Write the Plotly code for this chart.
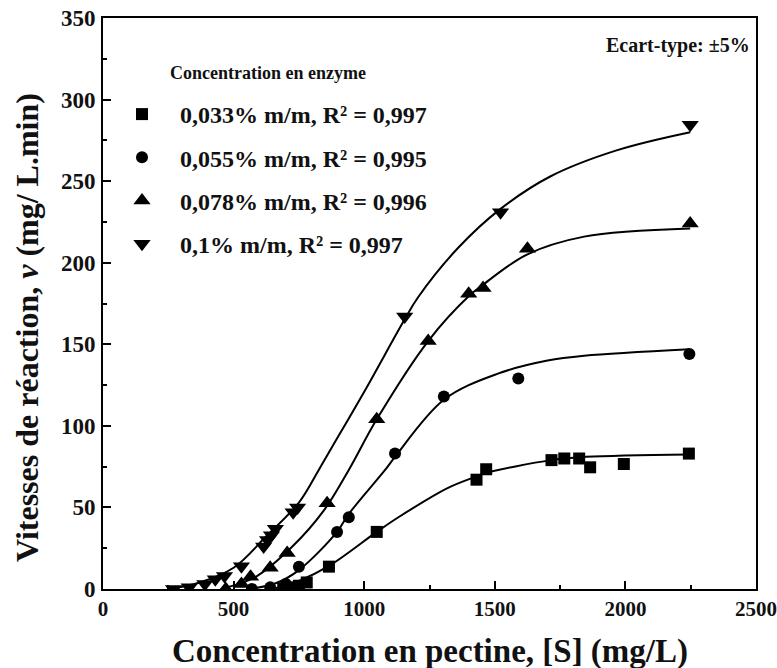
import plotly.graph_objects as go

# ---- measured points ----
sq_x = [690, 720, 750, 780, 865, 1048, 1430, 1467, 1717, 1766, 1823, 1865, 1994, 2243]
sq_y = [0, 1, 2, 4, 13.7, 35, 67, 73.4, 79, 80, 80, 74.6, 76.6, 83]

ci_x = [570, 640, 700, 750, 896, 941, 1118, 1305, 1590, 2245]
ci_y = [0, 1, 3, 13.7, 35, 44, 83, 118, 129, 144]

up_x = [470, 530, 565, 640, 705, 858, 1048, 1245, 1400, 1455, 1625, 2248]
up_y = [0, 3, 7.5, 13, 22, 52.5, 104, 152, 181, 184.5, 208.5, 224]

dn_x = [270, 330, 390, 430, 465, 530, 615, 630, 645, 660, 728, 745, 1155, 1522, 2248]
dn_y = [0, 1, 3, 6, 8, 14, 26, 30, 33, 37, 47, 50, 167, 231, 284.5]

# ---- fitted curves ----
f033_x = [650, 750, 864, 1048, 1131, 1321, 1429, 1461, 1717, 1850, 2243]
f033_y = [0, 5, 14, 35, 44, 62, 69, 71, 79, 81, 82.5]

f055_x = [560, 661, 750, 896, 941, 1080, 1118, 1305, 1512, 1702, 1842, 2245]
f055_y = [0, 3.5, 11.6, 35, 46, 73, 81, 116, 132, 140, 143, 147]

f078_x = [450, 585, 725, 845, 941, 1048, 1245, 1404, 1451, 1623, 1842, 2248]
f078_y = [0, 7.5, 26, 48, 73, 104, 152, 180, 186, 205, 216, 221]

f01_x = [250, 370, 500, 623, 750, 826, 877, 1004, 1154, 1207, 1359, 1522, 1714, 1969, 2248]
f01_y = [0, 4, 13, 32, 53, 73, 87, 122, 165, 179, 209, 233, 253, 269, 280]

names = ["0,033% m/m, R² = 0,997", "0,055% m/m, R² = 0,995",
         "0,078% m/m, R² = 0,996", "0,1% m/m, R² = 0,997"]

x_ticks = [0, 500, 1000, 1500, 2000, 2500]
y_ticks = [0, 50, 100, 150, 200, 250, 300, 350]

SERIF = "Liberation Serif, Times New Roman, serif"
INK = "#111111"

L, R, T, B = 103, 21, 18, 79
PW, PH = 777 - L - R, 668 - T - B


def px_x(p):
    return (p - L) / PW


def px_y(p):
    return 1 - (p - T) / PH


fig = go.Figure()

for fx, fy in [(f033_x, f033_y), (f055_x, f055_y), (f078_x, f078_y), (f01_x, f01_y)]:
    fig.add_trace(go.Scatter(x=fx, y=fy, mode="lines",
                             line=dict(color="black", width=2, shape="spline", smoothing=1.0),
                             showlegend=False, hoverinfo="skip"))

pts = [(sq_x, sq_y, "square", 12), (ci_x, ci_y, "circle", 12),
       (up_x, up_y, "triangle-up", 15), (dn_x, dn_y, "triangle-down", 15)]
for i, (px, py, sym, sz) in enumerate(pts):
    fig.add_trace(go.Scatter(x=px, y=py, mode="markers",
                             marker=dict(symbol=sym, size=sz, color="black"),
                             name="\u00a0\u00a0\u00a0" + names[i], legendgroup="g%d" % i))

axis_common = dict(showline=True, linecolor="black", linewidth=2, mirror=True,
                   ticks="inside", ticklen=8, tickwidth=2, tickcolor="black",
                   showgrid=False, zeroline=False, ticklabeloverflow="allow", automargin=False)

fig.update_xaxes(range=[0, 2500], tickvals=x_ticks,
                 tickfont=dict(family=SERIF, size=21, color=INK, weight="bold"),
                 minor=dict(dtick=250, ticks="inside", ticklen=4, tickwidth=2, tickcolor="black"),
                 **axis_common)
fig.update_yaxes(range=[0, 350], tickvals=y_ticks, ticklabelstandoff=1,
                 tickfont=dict(family=SERIF, size=23, color=INK, weight="bold"),
                 minor=dict(dtick=25, ticks="inside", ticklen=4, tickwidth=2, tickcolor="black"),
                 **axis_common)

fig.add_annotation(text="Concentration en pectine, [S] (mg/L)", xref="paper", yref="paper",
                   x=px_x(430), y=px_y(651), xanchor="center", yanchor="middle", showarrow=False,
                   font=dict(family=SERIF, size=33, color=INK, weight="bold"))
fig.add_annotation(text="Vitesses de réaction, <i>v</i> (mg/ L.min)", xref="paper", yref="paper",
                   x=px_x(27), y=px_y(328), xanchor="center", yanchor="middle", showarrow=False,
                   textangle=-90, font=dict(family=SERIF, size=32, color=INK, weight="bold"))

fig.add_annotation(text="Concentration en enzyme", xref="paper", yref="paper",
                   x=px_x(168), y=px_y(73), xanchor="left", yanchor="middle",
                   showarrow=False, font=dict(family=SERIF, size=18, color=INK, weight="bold"))
fig.add_annotation(text="Ecart-type: ±5%", xref="paper", yref="paper",
                   x=px_x(752), y=px_y(45), xanchor="right", yanchor="middle",
                   showarrow=False, font=dict(family=SERIF, size=20, color=INK, weight="bold"))

fig.update_layout(
    width=777, height=668,
    margin=dict(l=L, r=R, t=T, b=B, autoexpand=False),
    paper_bgcolor="white", plot_bgcolor="white",
    legend=dict(x=px_x(122), y=px_y(92), xanchor="left", yanchor="top",
                bgcolor="rgba(0,0,0,0)", tracegroupgap=9, traceorder="grouped",
                font=dict(family=SERIF, size=24, color=INK, weight="bold")),
)

fig.write_html("out.html")
